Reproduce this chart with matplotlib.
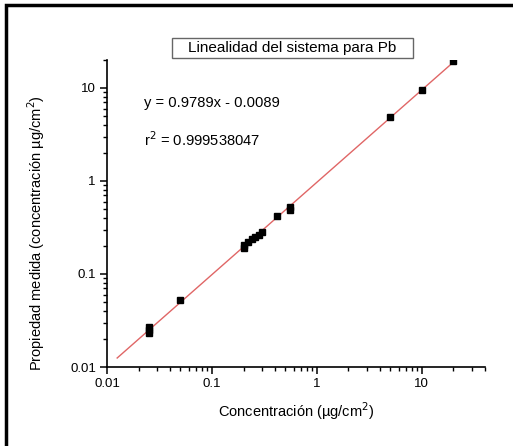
import numpy as np
import matplotlib
matplotlib.use("Agg")
import matplotlib.pyplot as plt
from matplotlib.patches import Rectangle

plt.rcParams['font.family'] = ['Liberation Sans', 'DejaVu Sans']

# datos
conc = [0.025, 0.025, 0.025, 0.05, 0.2, 0.2, 0.22, 0.24, 0.26, 0.28, 0.3,
        0.42, 0.55, 0.55, 5, 10, 20]
medida = [0.023, 0.025, 0.027, 0.053, 0.19, 0.205, 0.22, 0.235, 0.25, 0.265, 0.28,
          0.42, 0.49, 0.53, 4.9, 9.6, 19.5]
fit_range = [0.0125, 20]

title = "Linealidad del sistema para Pb"
eq_text = "y = 0.9789x - 0.0089"
r2_text = "r$^2$ = 0.999538047"

W, H = 513, 446
fig = plt.figure(figsize=(W / 100, H / 100), dpi=100)
ax = fig.add_axes([107/W, (H-367)/H, (485-107)/W, (367-60)/H])

# recta de ajuste (en escala log)
p = np.polyfit(np.log10(conc), np.log10(medida), 1)
xf = np.array(fit_range)
ax.plot(xf, 10**np.polyval(p, np.log10(xf)), color='#e06666', lw=1.0, zorder=2)
ax.plot(conc, medida, 's', color='black', ms=4.2, zorder=3)

ax.set_xscale('log')
ax.set_yscale('log')
ax.set_xlim(0.01, 40)
ax.set_ylim(0.01, 20)
ax.set_xticks([0.01, 0.1, 1, 10])
ax.set_xticklabels(['0.01', '0.1', '1', '10'])
ax.set_yticks([0.01, 0.1, 1, 10])
ax.set_yticklabels(['0.01', '0.1', '1', '10'])
for s in ['top', 'right']:
    ax.spines[s].set_visible(False)
for s in ['left', 'bottom']:
    ax.spines[s].set_linewidth(1.2)
ax.tick_params(which='major', length=5, width=1.1, labelsize=9.5, direction='out', pad=3)
ax.tick_params(which='minor', length=3, width=1.0, direction='out')
ax.tick_params(axis='y', which='minor', labelleft=False)
ax.tick_params(axis='x', which='minor', labelbottom=False)

ax.set_xlabel("Concentración (µg/cm$^2$)", fontsize=10.5, labelpad=7)
ax.set_ylabel("Propiedad medida (concentración µg/cm$^2$)", fontsize=10.5)
ax.yaxis.set_label_coords(-0.158, 0.436)

# titulo en recuadro
fig.patches.append(Rectangle((172/W, 1 - 58/H), (413-172)/W, 20/H, transform=fig.transFigure,
                             fill=False, ec='#666666', lw=1.0))
fig.text(292/W, 1 - 48/H, title, ha='center', va='center', fontsize=11)
fig.text(144/W, 1 - 103/H, eq_text, ha='left', va='center', fontsize=10.6)
fig.text(144/W, 1 - 140/H, r2_text, ha='left', va='center', fontsize=10.6)

# marco exterior
fig.patches.append(Rectangle((6/W, -0.1), 1.2, 1 - 5/H + 0.1, transform=fig.transFigure,
                             fill=False, ec='black', lw=2.5))

fig.savefig("out.png", dpi=100)
